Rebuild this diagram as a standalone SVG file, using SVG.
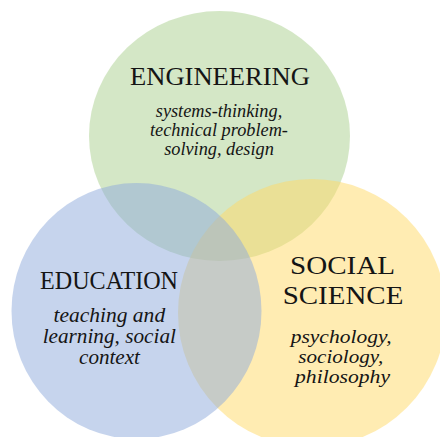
<svg xmlns="http://www.w3.org/2000/svg" width="440" height="437" viewBox="0 0 440 437">
<style>
.c{fill-opacity:0.5;stroke:none}
.t{font-family:"Liberation Serif","Times New Roman",serif;fill:#151515;text-anchor:middle}
.h{font-size:25.5px}
.i{font-style:italic}
.e{font-size:18.3px}
.d{font-size:20.5px}
.s{font-size:19.5px}
</style>
<rect width="440" height="437" fill="#ffffff"/>
<g id="engineering">
<ellipse class="c" cx="219.5" cy="136" rx="130.5" ry="125" fill="#A9D08E"/>
</g>
<g id="social-science">
<ellipse class="c" cx="312" cy="313" rx="134" ry="134" fill="#FFD966"/>
</g>
<g id="education">
<ellipse class="c" cx="136.5" cy="311" rx="125" ry="128" fill="#8EA9DB"/>
</g>
<g id="labels">
<text class="t h" x="220" y="85" textLength="180" lengthAdjust="spacingAndGlyphs">ENGINEERING</text>
<text class="t i e" x="219" y="117">systems-thinking,</text>
<text class="t i e" x="219" y="136">technical problem-</text>
<text class="t i e" x="219" y="154.5">solving, design</text>
<text class="t h" x="109" y="289.3" textLength="138" lengthAdjust="spacingAndGlyphs">EDUCATION</text>
<text class="t i d" x="109.3" y="321.7" textLength="111.7" lengthAdjust="spacingAndGlyphs">teaching and</text>
<text class="t i d" x="109.3" y="343" textLength="133.3" lengthAdjust="spacingAndGlyphs">learning, social</text>
<text class="t i d" x="109.5" y="364.3" textLength="61" lengthAdjust="spacingAndGlyphs">context</text>
<text class="t h" font-size="26" x="342.5" y="274" textLength="105" lengthAdjust="spacingAndGlyphs">SOCIAL</text>
<text class="t h" font-size="26" x="343" y="304" textLength="120.7" lengthAdjust="spacingAndGlyphs">SCIENCE</text>
<text class="t i s" x="341.2" y="342.7" textLength="101" lengthAdjust="spacingAndGlyphs">psychology,</text>
<text class="t i s" x="340.8" y="362.7" textLength="85" lengthAdjust="spacingAndGlyphs">sociology,</text>
<text class="t i s" x="342.5" y="382.7" textLength="95" lengthAdjust="spacingAndGlyphs">philosophy</text>
</g>
</svg>
